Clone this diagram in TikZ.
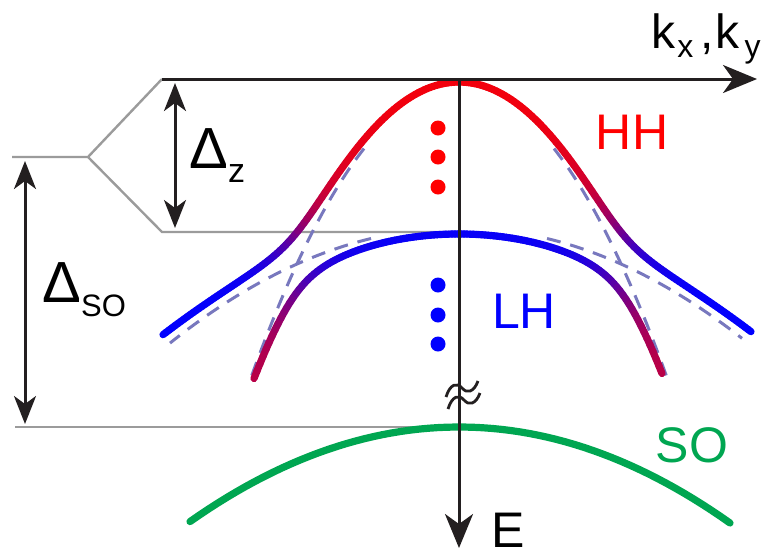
\documentclass[tikz,border=0pt]{standalone}
\usepackage{fontspec}
\setmainfont{Liberation Sans}
\usetikzlibrary{arrows.meta}
\definecolor{hhcolor}{RGB}{255,0,0}
\definecolor{lhcolor}{RGB}{0,0,255}
\definecolor{socolor}{RGB}{0,166,81}
\definecolor{levelcolor}{RGB}{155,155,155}
\definecolor{barecolor}{RGB}{120,120,190}
\definecolor{axiscolor}{RGB}{35,31,32}
\newcommand{\lowered}[3]{\raisebox{-#2}{\fontsize{#1}{#1}\selectfont #3}}

% bare bands (pixel units) and their mixing
\pgfmathdeclarefunction{ehh}{1}{\pgfmathparse{88.2+66.9*(#1/100)*(#1/100)}}
\pgfmathdeclarefunction{elh}{1}{\pgfmathparse{227.8+12.5*(#1/100)*(#1/100)}}
\pgfmathdeclarefunction{elhb}{1}{\pgfmathparse{227.8+13.8*(#1/100)*(#1/100)}}
\pgfmathdeclarefunction{eso}{1}{\pgfmathparse{427+13.07*(#1/100)*(#1/100)}}
\pgfmathdeclarefunction{mixd}{1}{\pgfmathparse{(elh(#1)-ehh(#1))/20}}
\pgfmathdeclarefunction{mixs}{1}{\pgfmathparse{sqrt(mixd(#1)*mixd(#1)+9)}}
\pgfmathdeclarefunction{eup}{1}{\pgfmathparse{(ehh(#1)+elh(#1))/2-10*mixs(#1)}}
\pgfmathdeclarefunction{elo}{1}{\pgfmathparse{(ehh(#1)+elh(#1))/2+10*mixs(#1)}}
\pgfmathdeclarefunction{hhfrac}{1}{\pgfmathparse{50*(1+mixd(#1)/mixs(#1))}}

\tikzset{
  axis/.style={line width=1.5pt, draw=axiscolor, -{Stealth[length=17pt,width=14pt,inset=5pt]}},
  gap/.style={line width=1.5pt, draw=axiscolor, {Stealth[length=14pt,width=11pt,inset=4pt]}-{Stealth[length=14pt,width=11pt,inset=4pt]}},
  level/.style={line width=1.2pt, draw=levelcolor},
  band/.style={line width=3.6pt, line cap=round},
  bare/.style={line width=1.5pt, draw=barecolor, dash pattern=on 7pt off 5pt},
  dot/.style={circle, inner sep=0pt, minimum size=7.5pt},
  lbl/.style={font=\fontsize{25}{30}\selectfont, inner sep=0pt}
}

\begin{document}
\begin{tikzpicture}[x=0.5pt, y=-0.5pt]
\useasboundingbox (0,0) rectangle (770,554);

% levels
\coordinate (top) at (162,79);
\coordinate (split) at (88,157);
\coordinate (solvl) at (12,157);
\coordinate (lhlvl) at (162,232);
\coordinate (lhpeak) at (459,232);
\coordinate (sobot) at (15,427);
\coordinate (sopeak) at (459,427);
\draw[level] (solvl) -- (split) -- (top);
\draw[level] (split) -- (lhlvl) -- (lhpeak);
\draw[level] (sobot) -- (sopeak);

% bare HH and LH bands
\draw[bare] plot[domain=95:209, samples=40] ({459+\x},{ehh(\x)});
\draw[bare] plot[domain=-95:-209, samples=40] ({459+\x},{ehh(\x)});
\draw[bare] plot[domain=88:283, samples=40] ({459+\x},{elhb(\x)});
\draw[bare] plot[domain=-88:-289, samples=40] ({459+\x},{elhb(\x)});

% mixed bands
\foreach \x [evaluate=\x as \xn using \x+3] in {-296,-293,...,290}{
  \pgfmathsetmacro\ya{eup(\x)}
  \pgfmathsetmacro\yb{eup(\xn)}
  \pgfmathtruncatemacro\mixpct{hhfrac(\x+1.5)}
  \draw[band, hhcolor!\mixpct!lhcolor] ({459+\x},\ya) -- ({459+\xn},\yb);
}
\foreach \x [evaluate=\x as \xn using \x+3] in {-205,-202,...,202}{
  \pgfmathsetmacro\ya{elo(\x)}
  \pgfmathsetmacro\yb{elo(\xn)}
  \pgfmathtruncatemacro\mixpct{0.8*(100-hhfrac(\x+1.5))}
  \draw[band, hhcolor!\mixpct!lhcolor] ({459+\x},\ya) -- ({459+\xn},\yb);
}
\draw[band, socolor] plot[domain=-269:271, samples=60] ({459+\x},{eso(\x)});

% dots
\foreach \i/\y in {1/128,2/157,3/187}
  \node[dot, fill=hhcolor] (hhdot\i) at (438,\y) {};
\foreach \i/\y in {1/285,2/315,3/344}
  \node[dot, fill=lhcolor] (lhdot\i) at (438,\y) {};

% axes
\coordinate (kend) at (757,79);
\coordinate (origin) at (459,79);
\coordinate (eend) at (459,548);
\draw[axis] (top) -- (kend);
\draw[axis] (origin) -- (eend);
\draw[line width=1.4pt, axiscolor] (446,397) .. controls (450,384) and (457,382) .. (462,388)
  .. controls (467,394) and (474,392) .. (478,381);
\draw[line width=1.4pt, axiscolor] (448,409) .. controls (452,396) and (459,394) .. (464,400)
  .. controls (469,406) and (476,404) .. (480,393);

% splittings
\coordinate (dzt) at (175,83);
\coordinate (dzb) at (175,228);
\coordinate (dsot) at (25,161);
\coordinate (dsob) at (25,424);
\draw[gap] (dzt) -- (dzb);
\draw[gap] (dsot) -- (dsob);

% labels
\node[anchor=base west, inner sep=0pt, font=\fontsize{29}{30}\selectfont] (dzlabel) at (189,168) {Δ\lowered{17pt}{7pt}{z}};
\node[anchor=base west, inner sep=0pt, font=\fontsize{29}{30}\selectfont] (dsolabel) at (42,302) {Δ\lowered{15.5pt}{7pt}{SO}};
\node[anchor=base west, inner sep=0pt, font=\fontsize{24}{30}\selectfont] (klabel) at (651,48) {k\hspace{1pt}\lowered{16pt}{4.5pt}{x}\hspace{3.5pt},\hspace{1pt}k\hspace{2.5pt}\lowered{16pt}{4.5pt}{y}};
\node[lbl, text=hhcolor] (hhlabel) at (632,132) {HH};
\node[lbl, text=lhcolor] (lhlabel) at (524,311) {LH};
\node[lbl, text=socolor] (solabel) at (692,445) {SO};
\node[lbl, anchor=base, text=black] (elabel) at (508,547) {E};
\end{tikzpicture}
\end{document}
